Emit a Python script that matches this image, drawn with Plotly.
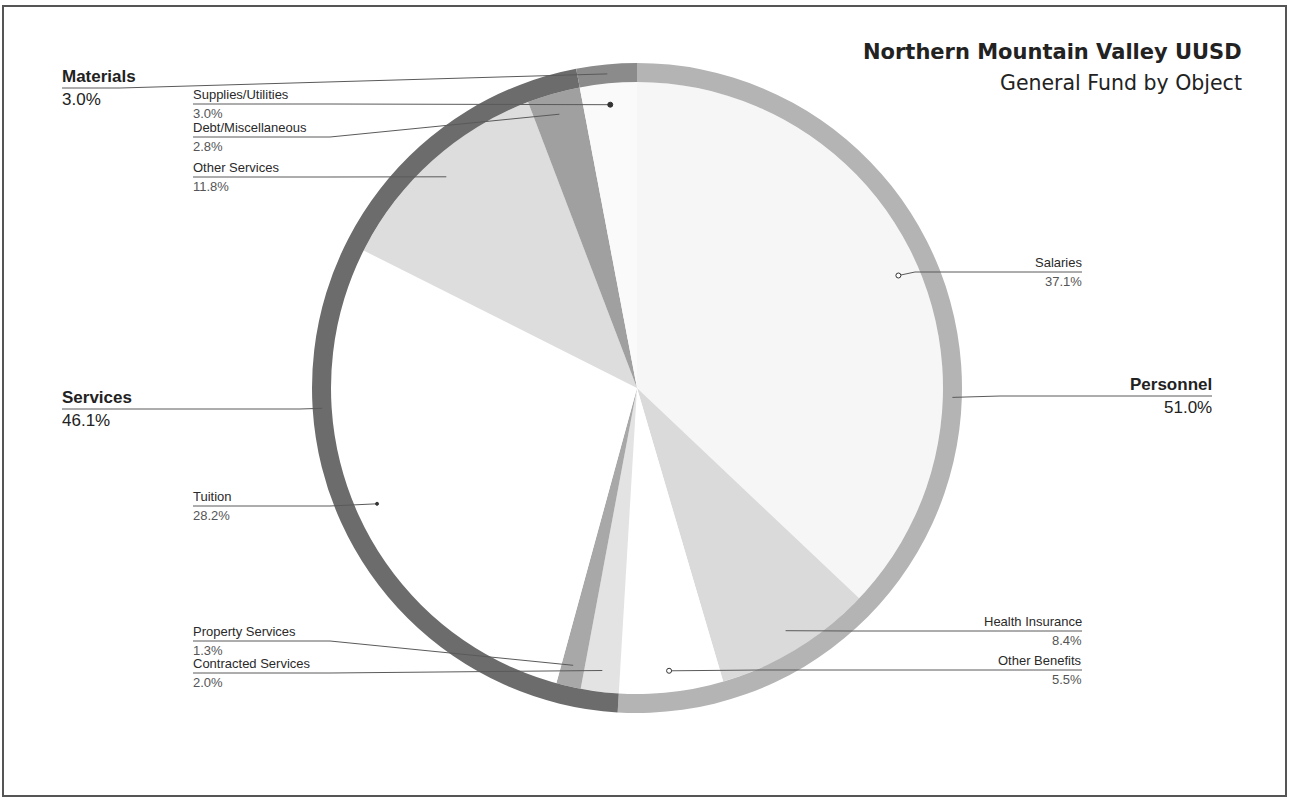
import math
import plotly.graph_objects as go

# ---------------- data ----------------
categories = ["Personnel", "Services", "Materials"]
category_values = [51.0, 46.1, 3.0]

subcategories = ["Salaries", "Health Insurance", "Other Benefits",
                 "Contracted Services", "Property Services", "Tuition",
                 "Other Services", "Debt/Miscellaneous", "Supplies/Utilities"]
subcategory_values = [37.1, 8.4, 5.5, 2.0, 1.3, 28.2, 11.8, 2.8, 3.0]

title_text = "Northern Mountain Valley UUSD"
subtitle_text = "General Fund by Object"

# ---------------- layout / style ----------------
W, H = 1291, 799
CX, CY = 637, 388          # pie centre (px)
R_OUT = 325                # outer radius of ring
R_IN = 306                 # radius of inner pie

category_colors = ["#b4b4b4", "#6c6c6c", "#8b8b8b"]
subcategory_colors = ["#f6f6f6", "#dadada", "#ffffff",
                      "#e3e3e3", "#a8a8a8", "#ffffff",
                      "#dddddd", "#a0a0a0", "#fafafa"]

LABEL_FONT = "Liberation Sans Narrow, Arial Narrow, Liberation Sans, Arial, sans-serif"
TITLE_FONT = "DejaVu Sans, Verdana, sans-serif"

# label placement: side, text x, underline y, knee x
cat_layout = {
    "Personnel": ("right", 1212, 396, 1000),
    "Services": ("left", 62, 409, 300),
    "Materials": ("left", 62, 88, 120),
}
sub_layout = {
    "Salaries": ("right", 1082, 272, 915),
    "Health Insurance": ("right", 1082, 631, 850),
    "Other Benefits": ("right", 1082, 670, 760),
    "Contracted Services": ("left", 193, 673, 330),
    "Property Services": ("left", 193, 641, 330),
    "Tuition": ("left", 193, 506, 330),
    "Other Services": ("left", 193, 177, 330),
    "Debt/Miscellaneous": ("left", 193, 137, 330),
    "Supplies/Utilities": ("left", 193, 104, 330),
}
marker_style = {
    "Salaries": "open",
    "Other Benefits": "open",
    "Supplies/Utilities": "filled",
    "Tuition": "small",
}


def mid_angles(values):
    total = sum(values)
    out, acc = [], 0.0
    for v in values:
        out.append((acc + v / 2.0) / total * 360.0)
        acc += v
    return out


def polar(angle_deg, r):
    a = math.radians(angle_deg)
    return CX + r * math.sin(a), CY - r * math.cos(a)


fig = go.Figure()

# invisible pixel-space axes for annotations / shapes
fig.add_trace(go.Scatter(x=[0, W], y=[0, H], mode="markers",
                         marker=dict(opacity=0), hoverinfo="skip", showlegend=False))

# inner pie (subcategories)
fig.add_trace(go.Pie(
    labels=subcategories, values=subcategory_values, sort=False,
    direction="clockwise", rotation=0, textinfo="none", hoverinfo="label+percent",
    marker=dict(colors=subcategory_colors, line=dict(width=0)),
    domain=dict(x=[(CX - R_IN) / W, (CX + R_IN) / W],
                y=[(H - CY - R_IN) / H, (H - CY + R_IN) / H]),
    showlegend=False,
))

# outer ring (categories)
fig.add_trace(go.Pie(
    labels=categories, values=category_values, sort=False,
    direction="clockwise", rotation=0, textinfo="none", hoverinfo="label+percent",
    hole=R_IN / R_OUT,
    marker=dict(colors=category_colors, line=dict(width=0)),
    domain=dict(x=[(CX - R_OUT) / W, (CX + R_OUT) / W],
                y=[(H - CY - R_OUT) / H, (H - CY + R_OUT) / H]),
    showlegend=False,
))

shapes = []
annotations = []

LINE_COL = "#5a5a5a"


def add_label(name, value, side, tx, ly, knee, anchor, bold, name_size, val_size, name_col, val_col):
    ax, ay = anchor
    shapes.append(dict(type="path", xref="x", yref="y", layer="above",
                       path=f"M {tx},{ly} L {knee},{ly} L {ax:.1f},{ay:.1f}",
                       line=dict(color=LINE_COL, width=1)))
    xanchor = "left" if side == "left" else "right"
    nm = f"<b>{name}</b>" if bold else name
    annotations.append(dict(x=tx, y=ly - 1, xref="x", yref="y", text=nm, showarrow=False,
                            xanchor=xanchor, yanchor="bottom",
                            font=dict(family=LABEL_FONT, size=name_size, color=name_col),
                            borderpad=0, xshift=-1 if side == "left" else 1))
    annotations.append(dict(x=tx, y=ly + 1, xref="x", yref="y", text=f"{value:.1f}%",
                            showarrow=False, xanchor=xanchor, yanchor="top",
                            font=dict(family=LABEL_FONT, size=val_size, color=val_col),
                            borderpad=0, xshift=-1 if side == "left" else 1))


# category labels (ring)
for name, val, ang in zip(categories, category_values, mid_angles(category_values)):
    side, tx, ly, knee = cat_layout[name]
    add_label(name, val, side, tx, ly, knee, polar(ang, (R_IN + R_OUT) / 2),
              True, 17, 17, "#222222", "#222222")

# subcategory labels (inner pie)
for name, val, ang in zip(subcategories, subcategory_values, mid_angles(subcategory_values)):
    side, tx, ly, knee = sub_layout[name]
    ax, ay = polar(ang, 0.93 * R_IN)
    add_label(name, val, side, tx, ly, knee, (ax, ay),
              False, 13, 13, "#2a2a2a", "#555555")
    st = marker_style.get(name)
    if st:
        r = 2.5 if st != "small" else 1.5
        fill = "white" if st == "open" else "#333333"
        shapes.append(dict(type="circle", xref="x", yref="y", layer="above",
                           x0=ax - r, x1=ax + r, y0=ay - r, y1=ay + r,
                           fillcolor=fill, line=dict(color="#333333", width=1)))

# border
shapes.append(dict(type="rect", xref="paper", yref="paper", x0=3 / W, x1=1286 / W,
                   y0=1 - 796 / H, y1=1 - 6 / H, line=dict(color="#555555", width=2),
                   layer="above"))

# title
annotations.append(dict(x=1244, y=52, xref="x", yref="y", text=f"<b>{title_text}</b>",
                        showarrow=False, xanchor="right", yanchor="middle",
                        font=dict(family=TITLE_FONT, size=21, color="#222222")))
annotations.append(dict(x=1244, y=83, xref="x", yref="y", text=subtitle_text,
                        showarrow=False, xanchor="right", yanchor="middle",
                        font=dict(family=TITLE_FONT, size=20.5, color="#222222")))

fig.update_layout(
    width=W, height=H,
    margin=dict(l=0, r=0, t=0, b=0),
    paper_bgcolor="white", plot_bgcolor="white",
    xaxis=dict(range=[0, W], visible=False, fixedrange=True),
    yaxis=dict(range=[H, 0], visible=False, fixedrange=True),
    shapes=shapes, annotations=annotations,
    showlegend=False,
)

fig.write_html("out.html")
